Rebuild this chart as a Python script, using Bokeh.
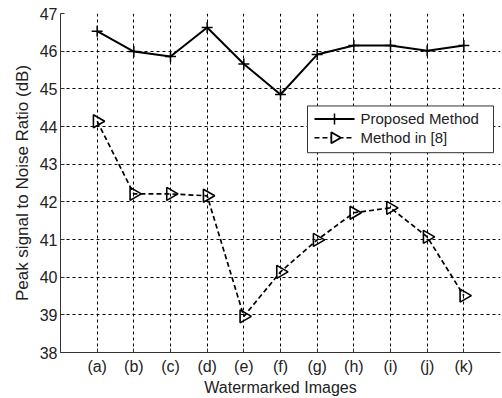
import math
from bokeh.plotting import figure
from bokeh.models import FixedTicker, Range1d
from bokeh.core.properties import value
from bokeh.embed import file_html
from bokeh.resources import INLINE

categories = ["(a)", "(b)", "(c)", "(d)", "(e)", "(f)", "(g)", "(h)", "(i)", "(j)", "(k)"]
proposed = [46.53, 45.99, 45.86, 46.63, 45.66, 44.85, 45.91, 46.15, 46.15, 46.01, 46.15]
method8 = [44.14, 42.21, 42.21, 42.16, 38.96, 40.14, 40.99, 41.71, 41.84, 41.07, 39.51]
y_ticks = [38, 39, 40, 41, 42, 43, 44, 45, 46, 47]
series_names = ["Proposed Method", "Method in [8]"]

xs = list(range(1, len(categories) + 1))
FONT = "Liberation Sans"
TXT = "#222222"

W, H = 502, 398
BL, BR, BT, BB = 60, 2, 13, 44
FW, FH = W - BL - BR, H - BT - BB

p = figure(width=W, height=H, output_backend="svg", toolbar_location=None,
           x_range=Range1d(0, 12), y_range=Range1d(38, 47),
           min_border_left=BL, min_border_right=BR, min_border_top=BT, min_border_bottom=BB)
p.outline_line_color = None
# pixel ranges (origin = frame bottom-left) used only for the legend layout
p.extra_x_ranges = {"px": Range1d(0, FW)}
p.extra_y_ranges = {"py": Range1d(0, FH)}

p.xaxis.ticker = FixedTicker(ticks=xs)
p.xaxis.major_label_overrides = {x: c for x, c in zip(xs, categories)}
p.yaxis.ticker = FixedTicker(ticks=y_ticks)
for ax in (p.xaxis[0], p.yaxis[0]):
    ax.major_tick_out = 0
    ax.major_tick_in = 4
    ax.minor_tick_out = 0
    ax.minor_tick_in = 0
    ax.axis_line_color = "#333333"
    ax.major_tick_line_color = "#333333"
    ax.major_label_text_font = FONT
    ax.major_label_text_font_size = "16px"
    ax.major_label_text_color = TXT
    ax.axis_label_text_font = FONT
    ax.axis_label_text_font_style = "normal"
    ax.axis_label_text_color = TXT
p.xaxis.axis_label = "Watermarked Images"
p.yaxis.axis_label = "Peak signal to Noise Ratio (dB)"
p.xaxis.axis_label_text_font_size = "16px"
p.yaxis.axis_label_text_font_size = "17px"
p.xaxis.major_label_standoff = 5
p.yaxis.major_label_standoff = 3
p.xaxis.axis_label_standoff = 1
p.yaxis.axis_label_standoff = 5

for g in (p.xgrid[0], p.ygrid[0]):
    g.grid_line_color = "black"
    g.grid_line_dash = "3 3"
    g.grid_line_width = 1

p.line(xs, proposed, line_color="black", line_width=2)
p.scatter(xs, proposed, marker="cross", size=11, line_color="black", line_width=1.5)
p.line(xs, method8, line_color="black", line_width=1.7, line_dash="5 3")
p.scatter(xs, method8, marker="triangle", size=13, angle=-math.pi / 2,
          line_color="black", fill_color=None, line_width=1.6)

# ---- legend (drawn by hand so the triangle can point right) ----
LEFT, RIGHT, BOTTOM, TOP = 247, 433, 201, 248
ROW_Y = [235, 216]
SAMPLE_X0, SAMPLE_X1, TEXT_X = 254, 294, 300
kw = dict(x_range_name="px", y_range_name="py")
p.quad(left=[LEFT], right=[RIGHT], bottom=[BOTTOM], top=[TOP],
       fill_color="white", line_color="#333333", line_width=1, **kw)
p.line([SAMPLE_X0, SAMPLE_X1], [ROW_Y[0], ROW_Y[0]], line_color="black", line_width=2, **kw)
p.scatter([(SAMPLE_X0 + SAMPLE_X1) / 2], [ROW_Y[0]], marker="cross", size=11,
          line_color="black", line_width=1.5, **kw)
p.line([SAMPLE_X0, SAMPLE_X1], [ROW_Y[1], ROW_Y[1]], line_color="black", line_width=1.7,
       line_dash="5 3", **kw)
p.scatter([(SAMPLE_X0 + SAMPLE_X1) / 2], [ROW_Y[1]], marker="triangle", size=11,
          angle=-math.pi / 2, line_color="black", fill_color="white", line_width=1.8, **kw)
p.text(x=[TEXT_X, TEXT_X], y=ROW_Y, text=series_names, text_font=value(FONT),
       text_font_size=value("15px"), text_color=TXT, text_baseline="middle",
       text_align="left", **kw)

open("out.html", "w").write(file_html(p, INLINE))
